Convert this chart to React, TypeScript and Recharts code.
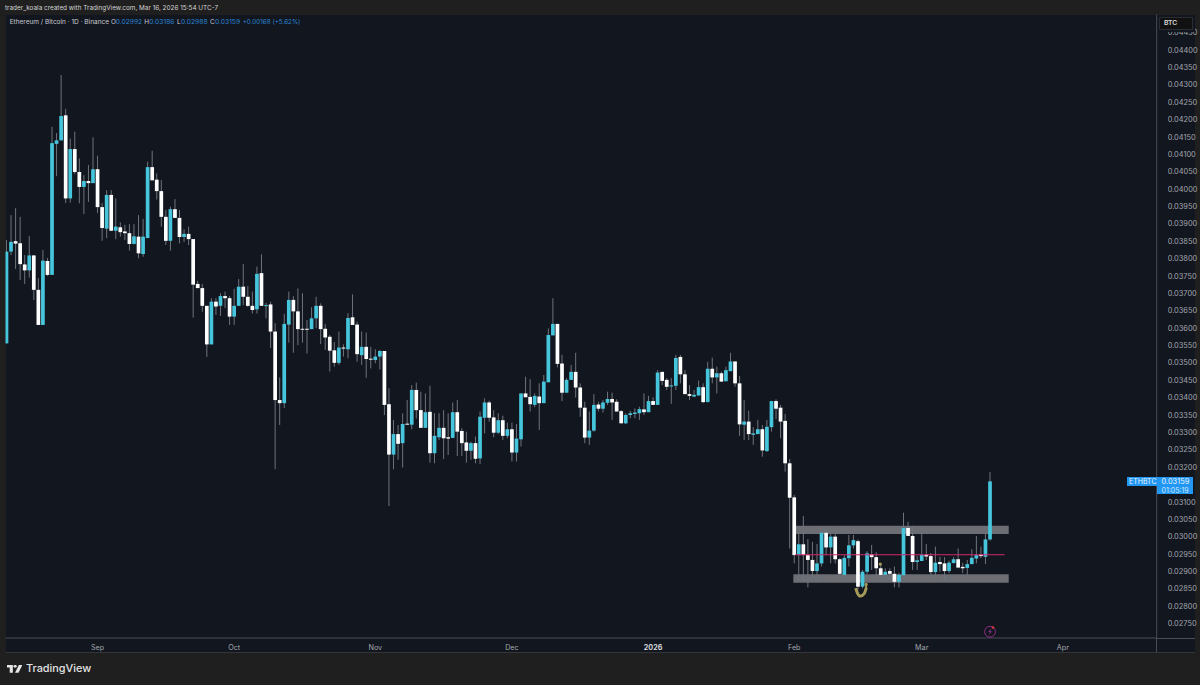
import React from "react";
import { ComposedChart, Bar, Line, XAxis, YAxis, ReferenceArea, ReferenceLine, ReferenceDot } from "recharts";

// Prices are listed in 1e-5 BTC units (3159 = 0.03159), one entry per daily candle.
const opens = [
3556,3820,3850,3844,3783,3766,3809,3710,3609,3793,
3753,4130,4140,4212,3973,4115,4049,4006,4023,4017,
4057,3948,3886,3983,3880,3890,3878,3873,3842,3863,
3813,3859,4063,4027,3994,3920,3851,3942,3917,3862,
3871,3856,3727,3715,3664,3553,3676,3664,3692,3686,
3633,3664,3719,3690,3664,3654,3758,3664,3668,3590,
3393,3384,3610,3681,3648,3598,3598,3597,3628,3664,
3598,3575,3536,3500,3544,3539,3631,3610,3522,3546,
3512,3508,3518,3534,3381,3236,3295,3269,3325,3322,
3422,3364,3313,3359,3240,3286,3313,3286,3284,3358,
3304,3271,3247,3269,3225,3342,3386,3343,3299,3335,
3290,3309,3242,3280,3412,3402,3379,3403,3384,3444,
3579,3612,3498,3414,3451,3474,3429,3371,3285,3305,
3380,3368,3385,3396,3388,3361,3326,3350,3353,3355,
3366,3358,3390,3379,3474,3451,3433,3434,3517,3467,
3410,3403,3406,3430,3387,3483,3458,3470,3447,3476,
3504,3441,3322,3331,3293,3295,3309,3246,3315,3390,
3371,3333,3211,3113,2947,2978,2947,2933,2901,2923,
3011,2969,3000,2935,2890,2938,2975,2987,2856,2899,
2949,2941,2909,2890,2901,2893,2870,2889,3025,3002,
2927,2930,2948,2944,2898,2927,2923,2901,2924,2935,
2913,2910,2921,2937,2948,2942,2992];
const highs = [
3853,3925,3945,3920,3810,3865,3810,3744,3825,3802,
4179,4161,4328,4231,4145,4165,4088,4040,4069,4149,
4096,3960,3997,3997,3973,3904,3897,3899,3899,3925,
3914,4079,4110,4045,4026,3940,3949,3971,3940,3884,
3892,3856,3736,3727,3664,3686,3686,3700,3705,3692,
3713,3741,3784,3721,3705,3777,3812,3672,3676,3614,
3458,3641,3705,3692,3714,3700,3623,3660,3690,3671,
3612,3580,3560,3590,3553,3643,3697,3618,3590,3587,
3546,3539,3537,3534,3427,3336,3321,3355,3393,3436,
3443,3417,3412,3434,3355,3355,3364,3355,3386,3393,
3312,3302,3273,3288,3360,3398,3391,3364,3355,3348,
3328,3328,3324,3412,3460,3453,3412,3441,3465,3599,
3686,3612,3523,3456,3494,3529,3441,3388,3360,3410,
3388,3393,3417,3414,3395,3364,3355,3362,3369,3374,
3412,3405,3401,3479,3474,3456,3456,3523,3523,3479,
3436,3422,3449,3441,3503,3515,3489,3475,3489,3529,
3504,3462,3393,3362,3315,3336,3321,3336,3390,3395,
3379,3353,3223,3120,3021,3059,2993,2985,2979,3031,
3024,3031,3008,2938,2947,3005,3005,2992,2904,2958,
2976,2955,2923,2909,2909,2914,2896,3069,3043,3031,
2945,3017,2979,2953,2971,2942,2941,2931,2941,2966,
2925,2933,2964,3002,2971,3013,3186];
const lows = [
3556,3810,3770,3738,3727,3745,3681,3609,3609,3750,
3753,4037,4140,3960,3961,4043,3959,3928,3963,4017,
3931,3851,3859,3879,3856,3863,3853,3823,3841,3801,
3805,3859,4025,3970,3892,3839,3823,3917,3844,3848,
3839,3630,3715,3647,3517,3553,3638,3635,3658,3609,
3609,3664,3666,3661,3642,3642,3664,3628,3543,3194,
3321,3370,3558,3529,3551,3558,3527,3597,3600,3554,
3537,3475,3489,3494,3518,3513,3609,3503,3494,3457,
3484,3499,3481,3350,3088,3194,3221,3199,3322,3309,
3340,3313,3313,3213,3211,3278,3223,3235,3284,3232,
3232,3213,3221,3211,3209,3297,3331,3286,3295,3278,
3283,3216,3216,3259,3401,3360,3372,3307,3384,3444,
3579,3487,3390,3414,3451,3400,3345,3269,3264,3302,
3360,3357,3379,3336,3360,3326,3324,3341,3341,3336,
3350,3358,3379,3379,3436,3422,3382,3422,3441,3410,
3393,3401,3406,3384,3387,3441,3412,3446,3447,3476,
3431,3290,3278,3278,3264,3295,3230,3244,3302,3338,
3283,3187,2966,2923,2875,2870,2854,2885,2875,2914,
2947,2923,2923,2880,2877,2914,2966,2847,2851,2893,
2904,2887,2875,2887,2875,2854,2854,2889,3002,2904,
2904,2930,2933,2887,2883,2899,2875,2895,2923,2909,
2895,2890,2921,2923,2938,2921,2988];
const closes = [
3820,3848,3843,3784,3766,3809,3710,3609,3794,3753,
4132,4140,4210,3973,4115,4049,4006,4023,4017,4057,
3948,3888,3983,3880,3892,3876,3873,3842,3864,3815,
3863,4063,4025,3994,3920,3851,3942,3917,3862,3871,
3856,3725,3715,3664,3553,3676,3662,3692,3686,3633,
3664,3719,3690,3664,3652,3756,3664,3666,3590,3393,
3384,3612,3681,3648,3597,3596,3596,3628,3664,3597,
3573,3535,3500,3544,3541,3629,3609,3525,3546,3511,
3510,3518,3534,3379,3236,3295,3267,3324,3323,3422,
3364,3313,3358,3240,3290,3313,3283,3282,3358,3302,
3269,3247,3269,3224,3345,3386,3342,3299,3335,3290,
3309,3242,3282,3412,3401,3381,3405,3384,3446,3580,
3612,3497,3414,3451,3474,3429,3371,3285,3305,3379,
3368,3386,3396,3386,3360,3326,3350,3355,3357,3367,
3358,3390,3379,3472,3448,3431,3435,3514,3467,3410,
3405,3408,3430,3387,3483,3458,3470,3446,3479,3504,
3441,3323,3331,3295,3297,3309,3248,3316,3390,3368,
3331,3211,3112,2947,2978,2947,2933,2901,2923,3011,
2969,3000,2935,2893,2939,2975,2990,2856,2899,2952,
2941,2909,2890,2899,2893,2870,2890,3025,3002,2927,
2932,2948,2943,2898,2925,2921,2901,2925,2935,2911,
2909,2921,2939,2947,2944,2992,3159];

const priceTicks = [
0.0275,0.028,0.0285,0.029,0.0295,0.03,0.0305,0.031,0.032,0.0325,0.033,0.0335,0.034,0.0345,
0.035,0.0355,0.036,0.0365,0.037,0.0375,0.038,0.0385,0.039,0.0395,0.04,0.0405,0.041,0.0415,0.042,0.0425,0.043,0.0435,0.044,0.0445];
const monthTicks = [20, 50, 81, 111, 142, 173, 201, 232];
const monthLabels = ["Sep", "Oct", "Nov", "Dec", "2026", "Feb", "Mar", "Apr"];

const scribbleIdx = [186.5, 186.9, 187.5, 188.4, 189, 188.7];
const scribblePrice = [2852, 2837, 2829, 2837, 2856, 2866];

const rows = opens.map((o, i) => ({
  i,
  open: o / 1e5,
  high: highs[i] / 1e5,
  low: lows[i] / 1e5,
  close: closes[i] / 1e5,
  range: [lows[i] / 1e5, highs[i] / 1e5],
}));
const scribble = scribbleIdx.map((i, k) => ({ i, brush: scribblePrice[k] / 1e5 }));

const FONT = "Inter, 'Noto Sans', sans-serif";
const UP = "#45c6dc";
const DOWN = "#ffffff";
const WICK = "#6f737c";

function Candle(props: any) {
  const { x, y, width, height, payload } = props;
  if (!payload) return null;
  const { open, high, low, close } = payload;
  const k = height / (high - low || 1);
  const cx = x + width / 2;
  const top = y + (high - Math.max(open, close)) * k;
  const bot = y + (high - Math.min(open, close)) * k;
  const w = 3.7;
  return (
    <g>
      <rect x={cx - 0.5} y={y} width={1} height={height} fill={WICK} />
      <rect x={cx - w / 2} y={top} width={w} height={Math.max(bot - top, 1)} fill={close >= open ? UP : DOWN} />
    </g>
  );
}

function MonthTick(props: any) {
  const { x, y, payload } = props;
  const label = monthLabels[monthTicks.indexOf(payload.value)];
  const bold = label === "2026";
  return (
    <text x={x} y={y} dy={3} textAnchor="middle" fontFamily={FONT} fontSize={7.2} fontWeight={bold ? 700 : 400} fill={bold ? "#d6d8dc" : "#a3a6ad"}>
      {label}
    </text>
  );
}

const abs = (left: number, top: number, extra: any = {}): React.CSSProperties => ({
  position: "absolute", left, top, whiteSpace: "nowrap", lineHeight: 1, ...extra,
});
const BLUE = "#2a86d6";
const LEG = "#c9cbd0";

export default function App() {
  return (
    <div style={{ position: "fixed", left: 0, top: 0, width: 1200, height: 685, background: "#1f1f1f", overflow: "hidden", fontFamily: FONT }}>
      <div style={{ position: "absolute", left: 5.5, top: 14.5, width: 1189.5, height: 637.5, background: "#12161f", borderBottom: "1px solid #33353a" }} />
      <ComposedChart
        width={1200}
        height={685}
        data={rows}
        margin={{ top: 14.5, left: 5.5, right: 5, bottom: 33 }}
        style={{ position: "absolute", left: 0, top: 0 }}
      >
        <XAxis
          type="number"
          dataKey="i"
          domain={[-0.22, 252.6]}
          allowDataOverflow
          ticks={monthTicks}
          interval={0}
          height={14}
          tickLine={false}
          axisLine={{ stroke: "#4a4d55" }}
          tick={<MonthTick />}
          tickMargin={3}
        />
        <YAxis
          orientation="right"
          domain={[0.027084, 0.045021]}
          allowDataOverflow
          ticks={priceTicks}
          interval={0}
          width={38.3}
          tickLine={false}
          axisLine={{ stroke: "#4a4d55" }}
          tickMargin={5}
          tick={{ fill: "#a3a6ad", fontSize: 7.4, fontFamily: FONT }}
          tickFormatter={(v: number) => v.toFixed(5)}
        />
        <Bar dataKey="range" barSize={4} shape={<Candle />} isAnimationActive={false} />
        <ReferenceArea x1={173.4} x2={220.1} y1={0.030076} y2={0.030315} fill="#ffffff" fillOpacity={0.38} stroke="none" />
        <ReferenceArea x1={172.8} x2={220.1} y1={0.028675} y2={0.028916} fill="#ffffff" fillOpacity={0.38} stroke="none" />
        <ReferenceLine segment={[{ x: 173.2, y: 0.02948 }, { x: 219.2, y: 0.02948 }]} stroke="#d02a6c" strokeWidth={1.1} />
        <Line data={scribble} dataKey="brush" type="monotone" stroke="#a59a58" strokeWidth={3} dot={false} isAnimationActive={false} />
        <ReferenceDot x={191.9} y={0.02921} r={1.6} fill="#a59a58" stroke="none" />
      </ComposedChart>

      <div style={{ position: "absolute", left: 1156.2, top: 638, width: 1, height: 14, background: "#4a4d55" }} />
      <div style={{ position: "absolute", left: 1156.7, top: 638, width: 38, height: 1, background: "#4a4d55" }} />

      <div style={abs(5, 4.5, { fontSize: 6.4, color: "#d4d4d4" })}>trader_koala created with TradingView.com, Mar 16, 2026 15:54 UTC-7</div>

      <div style={abs(9.7, 19.3, { fontSize: 6.5, color: LEG })}>Ethereum / Bitcoin · 1D · Binance</div>
      <div style={abs(111, 19.3, { fontSize: 6.5, color: LEG })}>O</div>
      <div style={abs(115.7, 19.3, { fontSize: 6.7, color: BLUE })}>0.02992</div>
      <div style={abs(144.3, 19.3, { fontSize: 6.5, color: LEG })}>H</div>
      <div style={abs(149.3, 19.3, { fontSize: 6.7, color: BLUE })}>0.03186</div>
      <div style={abs(177, 19.3, { fontSize: 6.5, color: LEG })}>L</div>
      <div style={abs(181, 19.3, { fontSize: 6.7, color: BLUE })}>0.02988</div>
      <div style={abs(210, 19.3, { fontSize: 6.5, color: LEG })}>C</div>
      <div style={abs(215, 19.3, { fontSize: 6.7, color: BLUE })}>0.03159</div>
      <div style={abs(242.7, 19.3, { fontSize: 6.3, color: BLUE })}>+0.00168 (+5.62%)</div>

      <div style={{ position: "absolute", left: 1157.5, top: 15, width: 37, height: 16.5, background: "#12161f" }} />
      <div style={{ position: "absolute", left: 1159, top: 16.7, width: 33.7, height: 13.3, background: "#111111", border: "1px solid #2a2c31", boxSizing: "border-box" }} />
      <div style={abs(1164, 20, { fontSize: 6.8, fontWeight: 500, color: "#e6e6e6" })}>BTC</div>

      <div style={{ position: "absolute", left: 1126.7, top: 477.3, width: 30, height: 9, background: "#2196f3" }} />
      <div style={{ position: "absolute", left: 1156.7, top: 477.3, width: 36, height: 17, background: "#2196f3" }} />
      <div style={abs(1129, 478.3, { fontSize: 7, color: "#eaf4fe" })}>ETHBTC</div>
      <div style={abs(1161.5, 478, { fontSize: 7.4, color: "#eaf4fe" })}>0.03159</div>
      <div style={abs(1161.5, 486.5, { fontSize: 7, color: "#cfe6fb" })}>01:05:19</div>

      <svg style={{ position: "absolute", left: 982, top: 623 }} width={16} height={16} viewBox="0 0 16 16">
        <circle cx={8} cy={8.7} r={5.4} fill="none" stroke="#9c2f8f" strokeWidth={0.9} />
        <path d="M9 5.5 L6.4 9 L8 9 L7 12 L9.8 8.2 L8.2 8.2 Z" fill="#9c2f8f" />
        <circle cx={11} cy={4.5} r={1.3} fill="#e0343f" />
      </svg>

      <svg style={{ position: "absolute", left: 6.5, top: 665 }} width={15.5} height={8} viewBox="0 0 17 10.5" preserveAspectRatio="none">
        <path d="M0 0 H6.4 V10.2 H3 V3.4 H0 Z" fill="#e6e6e6" />
        <circle cx={8.9} cy={1.8} r={1.8} fill="#e6e6e6" />
        <path d="M13 0 H16.8 L12.6 10.2 H8.8 Z" fill="#e6e6e6" />
      </svg>
      <div style={abs(26, 663.3, { fontSize: 10.9, fontWeight: 500, color: "#e2e2e2" })}>TradingView</div>
    </div>
  );
}
